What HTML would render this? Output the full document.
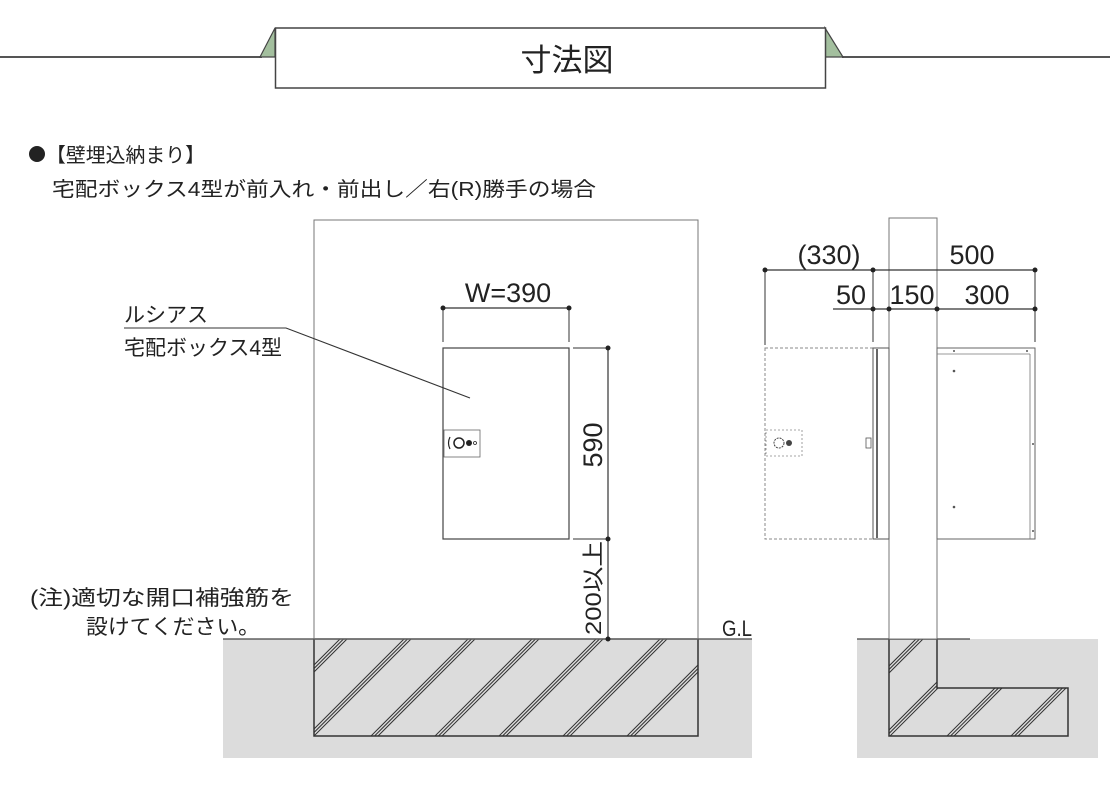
<!DOCTYPE html>
<html><head><meta charset="utf-8"><style>
html,body{margin:0;padding:0;background:#fff;width:1110px;height:810px;overflow:hidden;}
svg{display:block;}
text{font-family:"Liberation Sans","Noto Sans CJK JP",sans-serif;fill:#222;}
</style></head><body>
<svg width="1110" height="810" viewBox="0 0 1110 810" xmlns="http://www.w3.org/2000/svg" overflow="hidden">
<defs>
<clipPath id="c1"><rect x="314" y="639" width="384" height="97"/></clipPath>
<clipPath id="c2"><polygon points="889,639 889,736 1068,736 1068,688 937,688 937,639"/></clipPath>
</defs>
<!-- title -->
<line x1="0" y1="57" x2="262" y2="57" stroke="#555" stroke-width="2"/>
<line x1="842" y1="57" x2="1110" y2="57" stroke="#555" stroke-width="2"/>
<polygon points="260,57 275,28 275,57" fill="#a3bf9e" stroke="#444" stroke-width="1.2"/>
<polygon points="825,28 843,57 825,57" fill="#a3bf9e" stroke="#444" stroke-width="1.2"/>
<rect x="275.5" y="28" width="550" height="60" fill="#fff" stroke="#444" stroke-width="1.5"/>
<text x="567" y="71" font-size="31" text-anchor="middle">寸法図</text>
<!-- headings -->
<circle cx="37" cy="154" r="8" fill="#222"/>
<text x="46" y="162" font-size="20" textLength="159" lengthAdjust="spacingAndGlyphs">【壁埋込納まり】</text>
<text x="52" y="196" font-size="20" textLength="544" lengthAdjust="spacingAndGlyphs">宅配ボックス4型が前入れ・前出し／右(R)勝手の場合</text>
<!-- left ground -->
<rect x="223" y="639" width="529" height="119" fill="#dcdcdc"/>
<g clip-path="url(#c1)" stroke="#333" stroke-width="1">
<path d="M340 639 l-100 100 M343.5 639 l-100 100 M347 639 l-100 100
M404 639 l-100 100 M407.5 639 l-100 100 M411 639 l-100 100
M468 639 l-100 100 M471.5 639 l-100 100 M475 639 l-100 100
M532 639 l-100 100 M535.5 639 l-100 100 M539 639 l-100 100
M596 639 l-100 100 M599.5 639 l-100 100 M603 639 l-100 100
M660 639 l-100 100 M663.5 639 l-100 100 M667 639 l-100 100
M724 639 l-100 100 M727.5 639 l-100 100 M731 639 l-100 100"/>
</g>
<rect x="314" y="639" width="384" height="97" fill="none" stroke="#333" stroke-width="1.5"/>
<line x1="223" y1="639" x2="752" y2="639" stroke="#444" stroke-width="1.3"/>
<!-- wall -->
<rect x="314" y="220" width="384" height="419" fill="none" stroke="#777" stroke-width="1"/>
<text x="722" y="636" font-size="22" textLength="30" lengthAdjust="spacingAndGlyphs">G.L</text>
<!-- box front -->
<rect x="443" y="348" width="126" height="191" fill="#fff" stroke="#444" stroke-width="1.2"/>
<rect x="444" y="430" width="36" height="27" fill="none" stroke="#666" stroke-width="0.8"/>
<circle cx="459" cy="443" r="5" fill="none" stroke="#222" stroke-width="1.5"/>
<circle cx="469" cy="443" r="3" fill="#222"/>
<circle cx="475" cy="443" r="1.5" fill="none" stroke="#222" stroke-width="0.8"/>
<path d="M450 437 Q447 443 450 449" fill="none" stroke="#222" stroke-width="1.2"/>
<!-- W dim -->
<line x1="443" y1="308" x2="569" y2="308" stroke="#333" stroke-width="1.2"/>
<line x1="443" y1="308" x2="443" y2="342" stroke="#333" stroke-width="1"/>
<line x1="569" y1="308" x2="569" y2="342" stroke="#333" stroke-width="1"/>
<circle cx="443" cy="308" r="2.5" fill="#222"/><circle cx="569" cy="308" r="2.5" fill="#222"/>
<text x="508" y="302" font-size="27" text-anchor="middle">W=390</text>
<!-- vertical dim -->
<line x1="608" y1="348" x2="608" y2="639" stroke="#333" stroke-width="1.2"/>
<line x1="573" y1="348" x2="608" y2="348" stroke="#333" stroke-width="1"/>
<line x1="573" y1="539" x2="608" y2="539" stroke="#333" stroke-width="1"/>
<circle cx="608" cy="348" r="2.5" fill="#222"/><circle cx="608" cy="539" r="2.5" fill="#222"/><circle cx="608" cy="639" r="2.5" fill="#222"/>
<text transform="translate(602,445) rotate(-90)" font-size="27" text-anchor="middle">590</text>
<text transform="translate(601,588) rotate(-90)" font-size="22" text-anchor="middle" textLength="94" lengthAdjust="spacingAndGlyphs">200以上</text>
<!-- leader -->
<text x="124" y="322" font-size="21">ルシアス</text>
<text x="124" y="355" font-size="21">宅配ボックス4型</text>
<polyline points="124,328 286,328 470,398" fill="none" stroke="#333" stroke-width="1.1"/>
<!-- note -->
<text x="30" y="605" font-size="21" textLength="264" lengthAdjust="spacingAndGlyphs">(注)適切な開口補強筋を</text>
<text x="86" y="634" font-size="21" textLength="174" lengthAdjust="spacingAndGlyphs">設けてください。</text>
<!-- right side -->
<rect x="857" y="639" width="241" height="119" fill="#dcdcdc"/>
<g clip-path="url(#c2)" stroke="#333" stroke-width="1">
<path d="M852 639 l-100 100 M855.5 639 l-100 100 M859 639 l-100 100
M916 639 l-100 100 M919.5 639 l-100 100 M923 639 l-100 100
M980 639 l-100 100 M983.5 639 l-100 100 M987 639 l-100 100
M1044 639 l-100 100 M1047.5 639 l-100 100 M1051 639 l-100 100
M1108 639 l-100 100 M1111.5 639 l-100 100 M1115 639 l-100 100"/>
</g>
<polygon points="889,639 889,736 1068,736 1068,688 937,688 937,639" fill="none" stroke="#333" stroke-width="1.5"/>
<line x1="857" y1="639" x2="970" y2="639" stroke="#444" stroke-width="1.3"/>
<rect x="889" y="218" width="48" height="421" fill="#fff" stroke="#777" stroke-width="1"/>
<!-- box side -->
<rect x="765" y="348" width="108" height="191" fill="none" stroke="#888" stroke-width="1" stroke-dasharray="3,2"/>
<rect x="766" y="430" width="36" height="26" fill="none" stroke="#888" stroke-width="0.8" stroke-dasharray="2,2"/>
<circle cx="779" cy="443" r="5" fill="none" stroke="#444" stroke-width="1" stroke-dasharray="2,1"/>
<circle cx="789" cy="443" r="3" fill="#444"/>
<rect x="873" y="348" width="16" height="191" fill="#fff" stroke="#555" stroke-width="1"/>
<line x1="877" y1="349" x2="877" y2="538" stroke="#333" stroke-width="1.5"/>
<rect x="866" y="438" width="5" height="10" fill="#fff" stroke="#555" stroke-width="0.8"/>
<rect x="937" y="348" width="98" height="191" fill="#fff" stroke="#666" stroke-width="1"/>
<line x1="937" y1="354" x2="1030" y2="354" stroke="#777" stroke-width="0.8"/>
<line x1="1030" y1="354" x2="1030" y2="539" stroke="#777" stroke-width="0.8"/>
<circle cx="954" cy="371" r="1.3" fill="#555"/><circle cx="954" cy="507" r="1.3" fill="#555"/>
<circle cx="954" cy="351" r="1" fill="#555"/><circle cx="1027" cy="351" r="1" fill="#555"/>
<circle cx="1033" cy="444" r="1" fill="#555"/><circle cx="1033" cy="531" r="1" fill="#555"/>
<!-- right dims -->
<line x1="765" y1="270" x2="1035" y2="270" stroke="#333" stroke-width="1.2"/>
<line x1="833" y1="309" x2="1035" y2="309" stroke="#333" stroke-width="1.2"/>
<line x1="765" y1="270" x2="765" y2="345" stroke="#333" stroke-width="1"/>
<line x1="873" y1="270" x2="873" y2="342" stroke="#333" stroke-width="1"/>
<line x1="1035" y1="270" x2="1035" y2="342" stroke="#333" stroke-width="1"/>
<circle cx="765" cy="270" r="2.5" fill="#222"/><circle cx="873" cy="270" r="2.5" fill="#222"/><circle cx="1035" cy="270" r="2.5" fill="#222"/>
<circle cx="873" cy="309" r="2.5" fill="#222"/><circle cx="889" cy="309" r="2.5" fill="#222"/><circle cx="937" cy="309" r="2.5" fill="#222"/><circle cx="1035" cy="309" r="2.5" fill="#222"/>
<text x="829" y="264" font-size="27" text-anchor="middle">(330)</text>
<text x="972" y="264" font-size="27" text-anchor="middle">500</text>
<text x="851" y="304" font-size="27" text-anchor="middle">50</text>
<text x="912" y="304" font-size="27" text-anchor="middle">150</text>
<text x="987" y="304" font-size="27" text-anchor="middle">300</text>
</svg>
</body></html>
